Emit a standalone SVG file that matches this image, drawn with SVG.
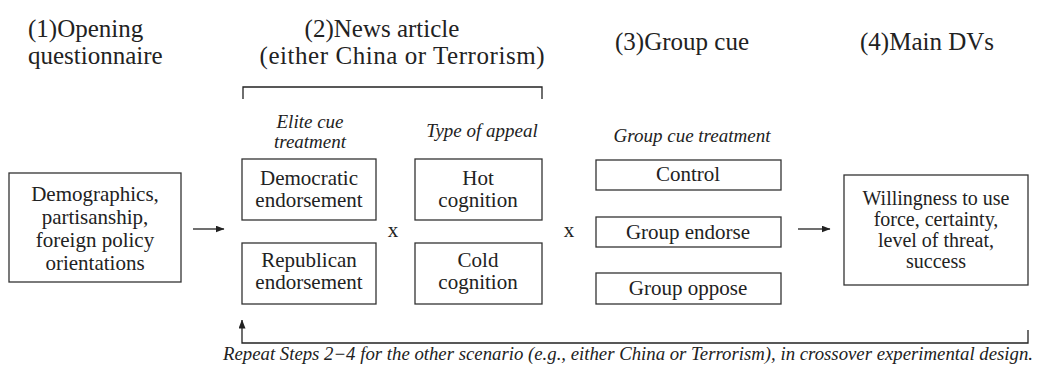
<svg xmlns="http://www.w3.org/2000/svg" width="1044" height="377" viewBox="0 0 1044 377">
<defs>
<style>
text{font-family:"Liberation Serif","Times New Roman",serif;fill:#222}
.h{font-size:25px}
.l{font-size:21px;text-anchor:middle}
.d{font-size:20px;text-anchor:middle}
.i{font-size:19px;font-style:italic;text-anchor:middle}
.b{fill:#fff;stroke:#333;stroke-width:1.3}
.c{fill:none;stroke:#222;stroke-width:1.3}
</style>
<marker id="ah" markerWidth="9" markerHeight="7" refX="8.5" refY="3.5" orient="auto" markerUnits="userSpaceOnUse">
<path d="M0,0 L9,3.5 L0,7 Z" fill="#222"/>
</marker>
</defs>
<rect width="1044" height="377" fill="#fff"/>
<g id="headings">
<text class="h" x="28" y="37">(1)Opening</text>
<text class="h" x="28" y="64">questionnaire</text>
<text class="h" x="382" y="37" text-anchor="middle">(2)News article</text>
<text class="h" x="402" y="64" text-anchor="middle" textLength="285">(either China or Terrorism)</text>
<text class="h" x="615" y="50">(3)Group cue</text>
<text class="h" x="860" y="50">(4)Main DVs</text>
</g>
<g id="labels">
<text class="i" x="310" y="128">Elite cue</text>
<text class="i" x="310" y="148">treatment</text>
<text class="i" x="482" y="137">Type of appeal</text>
<text class="i" x="692" y="142">Group cue treatment</text>
</g>
<g id="node-demographics">
<rect class="b" x="9" y="173" width="172" height="109"/>
<text class="l" x="95" y="201">Demographics,</text>
<text class="l" x="95" y="224">partisanship,</text>
<text class="l" x="95" y="247">foreign policy</text>
<text class="l" x="95" y="270">orientations</text>
</g>
<g id="node-democratic">
<rect class="b" x="242" y="159" width="134" height="61"/>
<text class="l" x="309" y="185">Democratic</text>
<text class="l" x="309" y="207">endorsement</text>
</g>
<g id="node-republican">
<rect class="b" x="242" y="243" width="134" height="61"/>
<text class="l" x="309" y="267">Republican</text>
<text class="l" x="309" y="289">endorsement</text>
</g>
<g id="node-hot">
<rect class="b" x="415" y="159" width="127" height="61"/>
<text class="l" x="478" y="185">Hot</text>
<text class="l" x="478" y="207">cognition</text>
</g>
<g id="node-cold">
<rect class="b" x="415" y="243" width="127" height="61"/>
<text class="l" x="478" y="267">Cold</text>
<text class="l" x="478" y="289">cognition</text>
</g>
<g id="node-control">
<rect class="b" x="596" y="160" width="185" height="30"/>
<text class="l" x="688" y="181">Control</text>
</g>
<g id="node-endorse">
<rect class="b" x="596" y="217" width="185" height="30"/>
<text class="l" x="688" y="239">Group endorse</text>
</g>
<g id="node-oppose">
<rect class="b" x="596" y="273" width="185" height="31"/>
<text class="l" x="688" y="295">Group oppose</text>
</g>
<g id="node-dvs">
<rect class="b" x="844" y="175" width="184" height="110"/>
<text class="d" x="936" y="205">Willingness to use</text>
<text class="d" x="936" y="226">force, certainty,</text>
<text class="d" x="936" y="247">level of threat,</text>
<text class="d" x="936" y="268">success</text>
</g>
<g id="times">
<text class="l" x="393" y="237">x</text>
<text class="l" x="569" y="237">x</text>
</g>
<g id="connectors">
<path class="c" d="M243,99 V87 H542 V99"/>
<line class="c" x1="193" y1="229" x2="224" y2="229" marker-end="url(#ah)"/>
<line class="c" x1="798" y1="229" x2="830" y2="229" marker-end="url(#ah)"/>
<path class="c" d="M1028,330 V343 H242 V320" marker-end="url(#ah)"/>
</g>
<text x="223" y="360" font-size="18" font-style="italic" textLength="810" lengthAdjust="spacingAndGlyphs">Repeat Steps 2−4 for the other scenario (e.g., either China or Terrorism), in crossover experimental design.</text>
</svg>
